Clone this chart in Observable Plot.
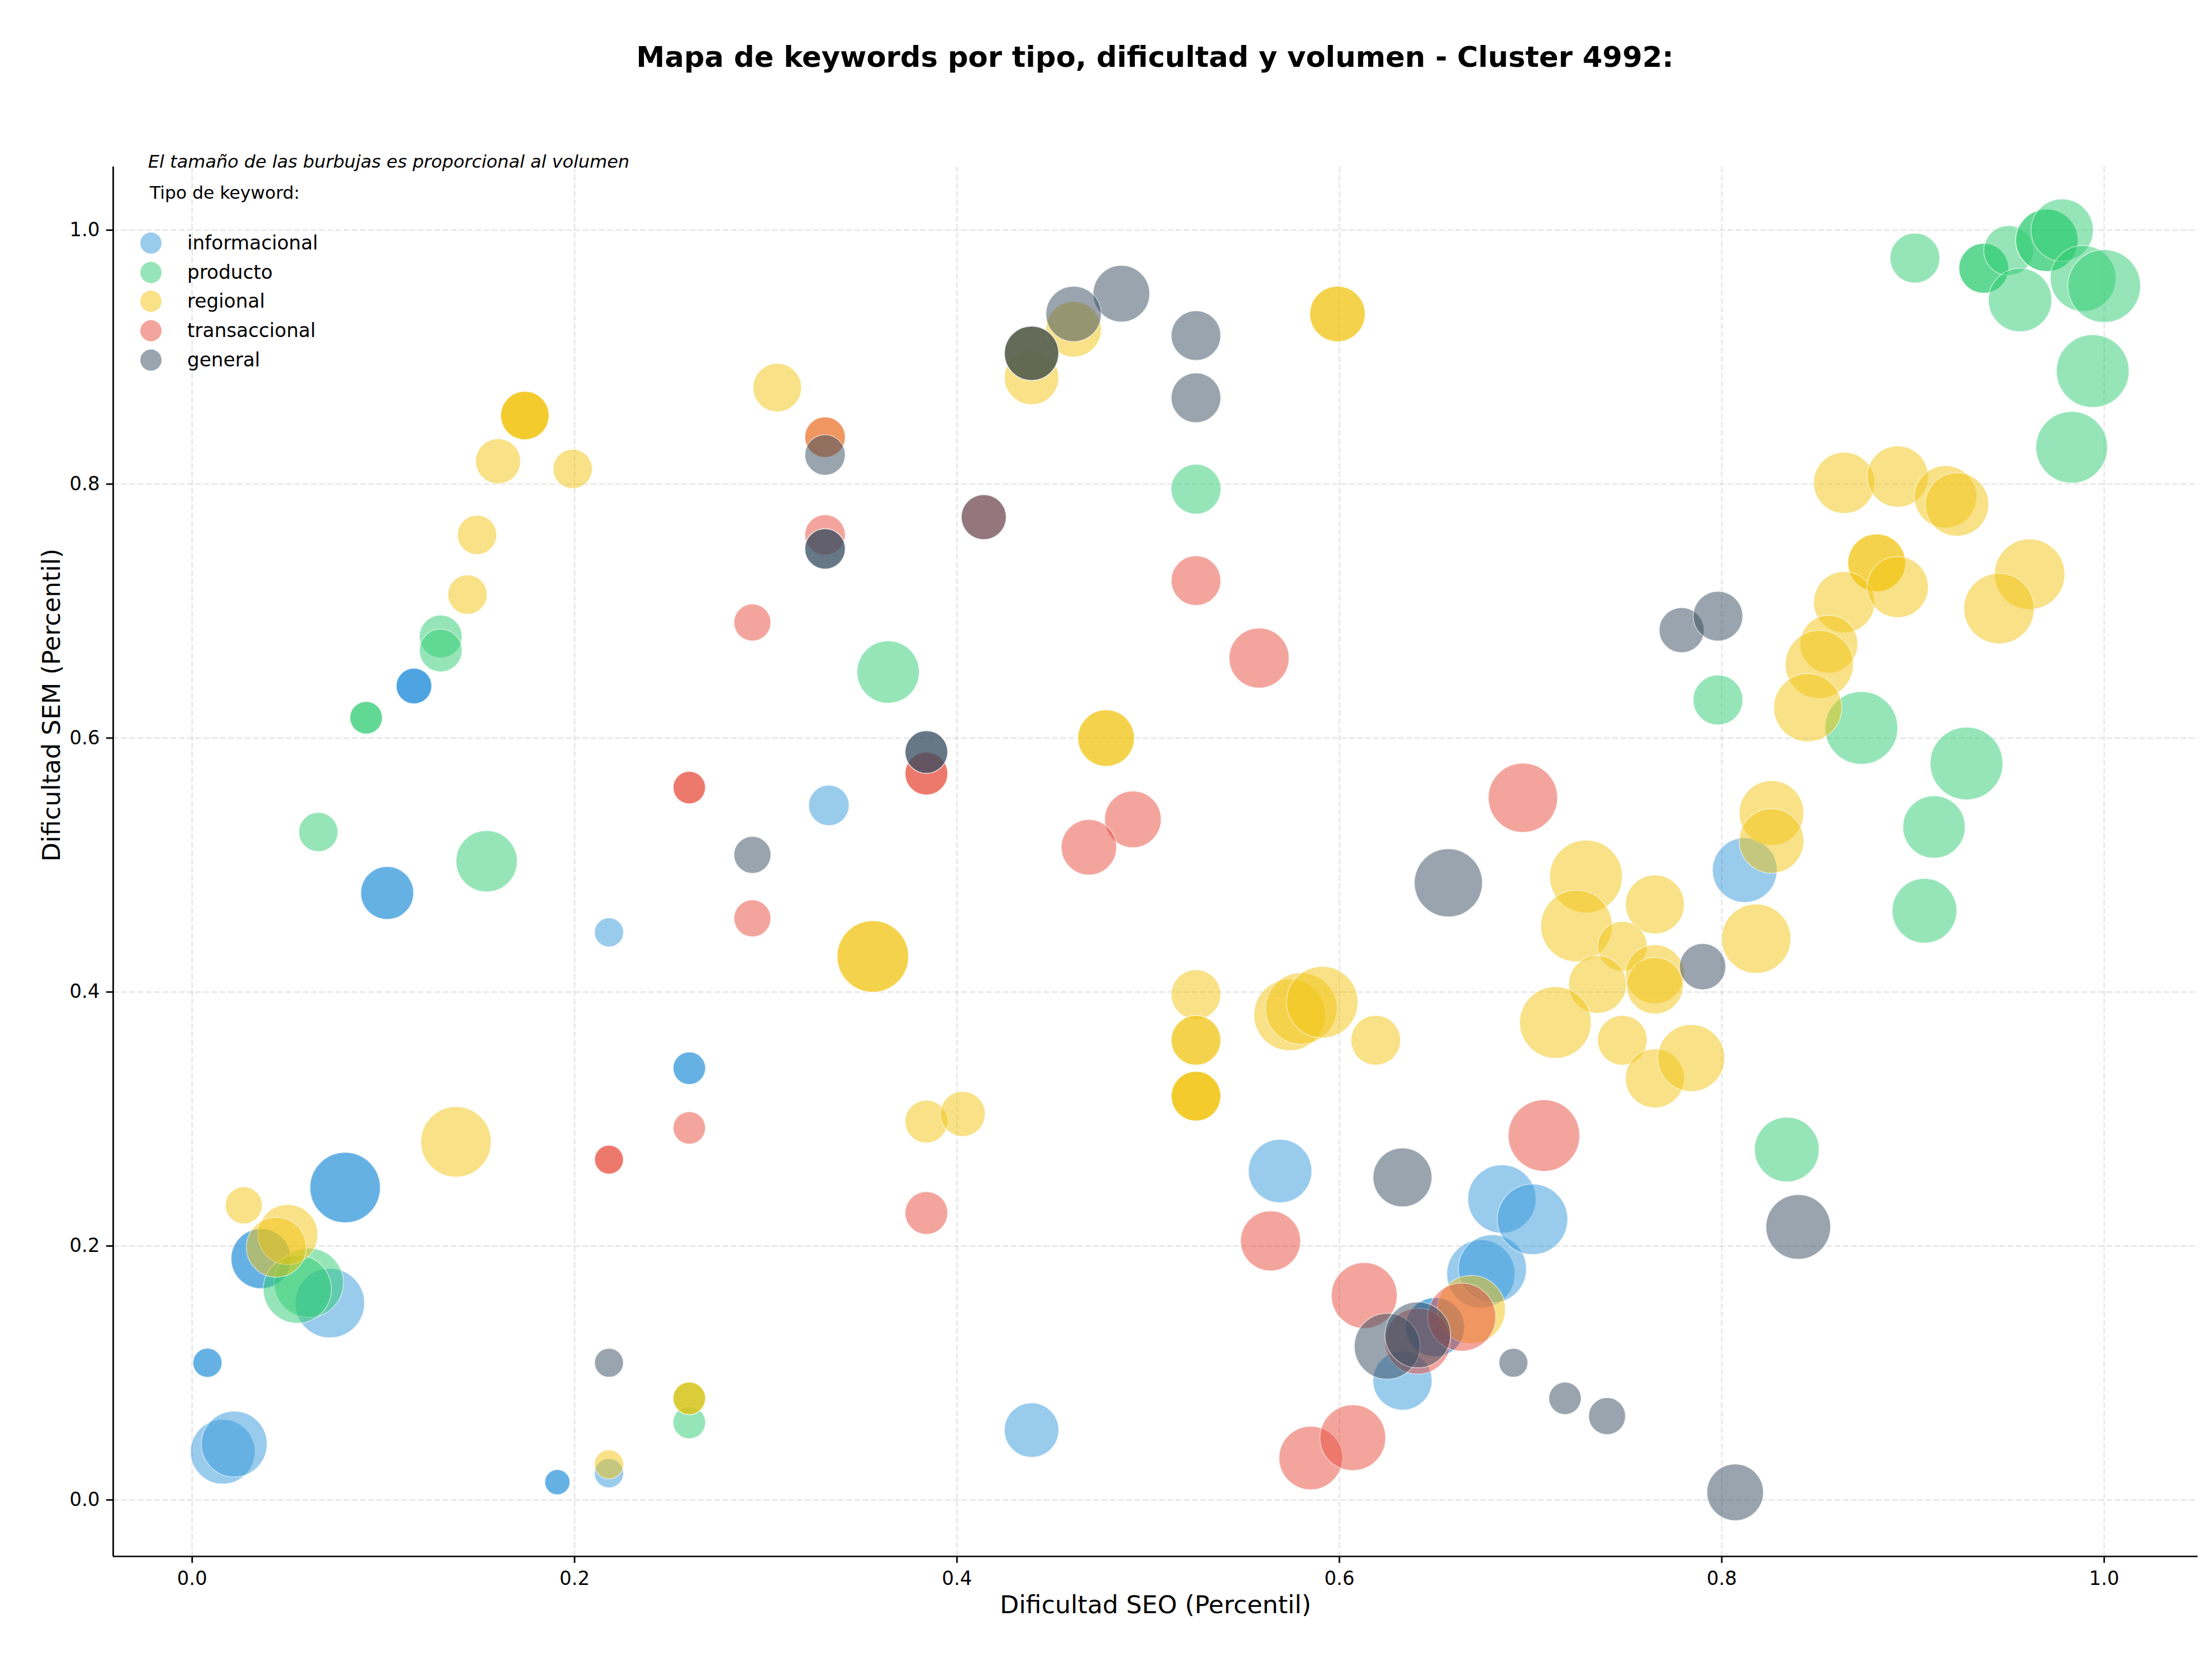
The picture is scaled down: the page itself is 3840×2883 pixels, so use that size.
<!DOCTYPE html>
<html>
<head>
<meta charset="utf-8">
<script src="https://cdn.jsdelivr.net/npm/d3@7"></script>
<script src="https://cdn.jsdelivr.net/npm/@observablehq/plot@0.6"></script>
<style>
  body { margin: 0; background: #fff; }
  #fig { position: relative; width: 3840px; height: 2883px; overflow: hidden; background: #fff;
         font-family: "DejaVu Sans", sans-serif; color: #000; }
  #fig svg { position: absolute; left: 0; top: 200px; }
  .abs { position: absolute; white-space: nowrap; line-height: 1; }
  .title { font-weight: bold; font-size: 49.7px; transform: translate(-50%, -50%); }
  .note { font-style: italic; font-size: 31px; transform: translateY(-50%); }
  .ltitle { font-size: 30.5px; transform: translateY(-50%); }
  .item { font-size: 33.3px; transform: translateY(-50%); }
  .swatch { position: absolute; width: 37px; height: 37px; border-radius: 50%; transform: translate(-50%, -50%); }
</style>
</head>
<body>
<div id="fig"></div>
<script>
// Tipos de keyword, en el orden en que se dibujan
const tipos = ["informacional", "producto", "regional", "transaccional", "general"];
const colores = ["#3498db", "#2ecc71", "#f1c40f", "#e74c3c", "#34495e"];

// [dificultad SEO (percentil), dificultad SEM (percentil), volumen]
const informacional = [
  [0.116, 0.641, 240], [0.116, 0.641, 240], [0.116, 0.641, 240],
  [0.333, 0.547, 310],
  [0.102, 0.478, 530], [0.102, 0.478, 530],
  [0.218, 0.447, 160],
  [0.260, 0.340, 200], [0.260, 0.340, 200],
  [0.080, 0.246, 940], [0.080, 0.246, 940],
  [0.036, 0.190, 680], [0.036, 0.190, 680],
  [0.072, 0.155, 910],
  [0.008, 0.108, 160], [0.008, 0.108, 160],
  [0.016, 0.038, 790],
  [0.022, 0.044, 820],
  [0.218, 0.021, 160],
  [0.191, 0.014, 120], [0.191, 0.014, 120],
  [0.439, 0.055, 560],
  [0.569, 0.259, 760],
  [0.633, 0.094, 660],
  [0.650, 0.136, 660], [0.650, 0.136, 660],
  [0.674, 0.178, 880],
  [0.680, 0.182, 880],
  [0.685, 0.237, 880],
  [0.701, 0.221, 940],
  [0.812, 0.496, 790]
];

const producto = [
  [0.130, 0.680, 345], [0.130, 0.669, 345],
  [0.091, 0.616, 200], [0.091, 0.616, 200],
  [0.066, 0.526, 290],
  [0.154, 0.503, 710],
  [0.364, 0.652, 735],
  [0.525, 0.796, 470],
  [0.061, 0.171, 910],
  [0.055, 0.166, 880],
  [0.260, 0.080, 200],
  [0.260, 0.061, 200],
  [0.901, 0.978, 470],
  [0.937, 0.970, 470], [0.937, 0.970, 470],
  [0.950, 0.984, 470],
  [0.956, 0.945, 760],
  [0.970, 0.992, 735], [0.970, 0.992, 735],
  [0.978, 1.000, 735],
  [0.989, 0.962, 820],
  [1.000, 0.956, 1000],
  [0.994, 0.889, 1000],
  [0.983, 0.829, 970],
  [0.873, 0.608, 1000],
  [0.798, 0.630, 470],
  [0.928, 0.580, 1000],
  [0.911, 0.530, 735],
  [0.906, 0.464, 790],
  [0.834, 0.276, 790]
];

const regional = [
  [0.174, 0.854, 444], [0.174, 0.854, 444], [0.174, 0.854, 444],
  [0.160, 0.818, 383],
  [0.199, 0.812, 291],
  [0.149, 0.760, 291],
  [0.144, 0.713, 291],
  [0.306, 0.876, 444],
  [0.331, 0.837, 309],
  [0.439, 0.884, 557],
  [0.439, 0.903, 557], [0.439, 0.903, 557],
  [0.461, 0.922, 580],
  [0.599, 0.934, 580], [0.599, 0.934, 580],
  [0.478, 0.600, 605], [0.478, 0.600, 605],
  [0.356, 0.428, 968], [0.356, 0.428, 968],
  [0.525, 0.398, 466],
  [0.525, 0.362, 466], [0.525, 0.362, 466],
  [0.525, 0.318, 466], [0.525, 0.318, 466], [0.525, 0.318, 466],
  [0.574, 0.382, 968],
  [0.580, 0.387, 968],
  [0.591, 0.392, 968],
  [0.619, 0.362, 466],
  [0.384, 0.298, 345],
  [0.403, 0.304, 383],
  [0.138, 0.282, 937],
  [0.027, 0.232, 258],
  [0.050, 0.209, 681],
  [0.044, 0.199, 681],
  [0.260, 0.080, 200], [0.260, 0.080, 200],
  [0.218, 0.028, 160],
  [0.669, 0.150, 877],
  [0.864, 0.801, 708],
  [0.892, 0.806, 708],
  [0.917, 0.790, 735],
  [0.923, 0.784, 762],
  [0.881, 0.738, 630], [0.881, 0.738, 630],
  [0.864, 0.707, 708],
  [0.892, 0.719, 708],
  [0.961, 0.729, 937],
  [0.945, 0.702, 937],
  [0.856, 0.674, 630],
  [0.851, 0.658, 877],
  [0.845, 0.624, 877],
  [0.826, 0.541, 790],
  [0.826, 0.519, 790],
  [0.729, 0.491, 1000],
  [0.724, 0.452, 968],
  [0.765, 0.469, 655],
  [0.748, 0.436, 466],
  [0.735, 0.406, 630],
  [0.765, 0.414, 655],
  [0.765, 0.405, 605],
  [0.818, 0.442, 907],
  [0.713, 0.376, 968],
  [0.748, 0.362, 466],
  [0.765, 0.332, 655],
  [0.784, 0.348, 848]
];

const transaccional = [
  [0.331, 0.837, 309],
  [0.331, 0.760, 309],
  [0.293, 0.691, 258],
  [0.260, 0.561, 198], [0.260, 0.561, 198],
  [0.414, 0.774, 383],
  [0.525, 0.724, 466],
  [0.558, 0.663, 681],
  [0.384, 0.572, 345], [0.384, 0.572, 345],
  [0.492, 0.536, 605],
  [0.469, 0.514, 580],
  [0.293, 0.458, 258],
  [0.260, 0.293, 198],
  [0.218, 0.268, 157], [0.218, 0.268, 157],
  [0.384, 0.226, 345],
  [0.696, 0.553, 907],
  [0.707, 0.287, 968],
  [0.564, 0.204, 681],
  [0.613, 0.161, 819],
  [0.585, 0.033, 762],
  [0.607, 0.049, 819],
  [0.641, 0.125, 819],
  [0.664, 0.144, 877]
];

const general = [
  [0.331, 0.823, 309],
  [0.331, 0.749, 309], [0.331, 0.749, 309],
  [0.293, 0.508, 258],
  [0.486, 0.950, 605],
  [0.461, 0.934, 580],
  [0.439, 0.903, 557], [0.439, 0.903, 557],
  [0.525, 0.917, 466],
  [0.525, 0.868, 466],
  [0.414, 0.774, 383],
  [0.384, 0.589, 345], [0.384, 0.589, 345],
  [0.657, 0.486, 877],
  [0.633, 0.254, 655],
  [0.625, 0.121, 819],
  [0.641, 0.130, 819],
  [0.779, 0.685, 383],
  [0.798, 0.696, 466],
  [0.790, 0.420, 403],
  [0.840, 0.215, 790],
  [0.691, 0.108, 157],
  [0.718, 0.080, 198],
  [0.740, 0.066, 258],
  [0.807, 0.006, 605],
  [0.218, 0.108, 157]
];

const ticks = [0, 0.2, 0.4, 0.6, 0.8, 1.0];
const titulo = "Mapa de keywords por tipo, dificultad y volumen - Cluster 4992:";
const nota = "El tamaño de las burbujas es proporcional al volumen";
const tituloLeyenda = "Tipo de keyword:";
const etiquetaX = "Dificultad SEO (Percentil)";
const etiquetaY = "Dificultad SEM (Percentil)";

const series = { informacional, producto, regional, transaccional, general };
const filas = tipos.flatMap(tipo =>
  series[tipo].map(([seo, sem, volumen]) => ({ tipo, seo, sem, volumen }))
);

const xDom = [-0.0413, 1.049];
const yDom = [-0.0445, 1.0499];
const grid = { stroke: "#b0b0b0", strokeOpacity: 0.3, strokeWidth: 2.7, strokeDasharray: "10,4.3" };

const chart = Plot.plot({
  width: 3840,
  height: 2683,
  marginTop: 89,
  marginBottom: 182,
  marginLeft: 196,
  marginRight: 25,
  style: { fontFamily: "'DejaVu Sans', sans-serif", fontSize: "33px", color: "#000", background: "#fff" },
  x: { domain: xDom },
  y: { domain: yDom },
  r: { type: "sqrt", domain: [0, 1000], range: [0, 63] },
  color: { domain: tipos, range: colores },
  marks: [
    Plot.gridX(ticks, grid),
    Plot.gridY(ticks, grid),
    Plot.dot(filas, {
      x: "seo", y: "sem", r: "volumen", fill: "tipo",
      fillOpacity: 0.5, stroke: "#fff", strokeOpacity: 0.5, strokeWidth: 1.7, sort: null
    }),
    Plot.ruleX([xDom[0]], { stroke: "#000", strokeWidth: 2.7 }),
    Plot.ruleY([yDom[0]], { stroke: "#000", strokeWidth: 2.7 }),
    Plot.axisX(ticks, { tickFormat: d3.format(".1f"), tickSize: 11.7, tickPadding: 14, strokeWidth: 2.7, fontSize: 33, label: null }),
    Plot.axisY(ticks, { tickFormat: d3.format(".1f"), tickSize: 11.7, tickPadding: 11.5, strokeWidth: 2.7, fontSize: 33, label: null }),
    Plot.text([etiquetaX], { frameAnchor: "bottom", dy: 98, fontSize: 43, text: d => d }),
    Plot.text([etiquetaY], { frameAnchor: "left", dx: -106, rotate: -90, fontSize: 43, text: d => d })
  ]
});

const fig = document.getElementById("fig");
fig.appendChild(chart);

function addText(cls, text, left, top) {
  const el = document.createElement("div");
  el.className = "abs " + cls;
  el.textContent = text;
  el.style.left = left + "px";
  el.style.top = top + "px";
  fig.appendChild(el);
  return el;
}

addText("title", titulo, 2005, 100);
addText("note", nota, 257, 280);
addText("ltitle", tituloLeyenda, 260, 335);

// Leyenda por tipo
tipos.forEach((tipo, i) => {
  const cy = 422 + i * 50.7;
  const sw = document.createElement("div");
  sw.className = "swatch";
  sw.style.left = "262px";
  sw.style.top = cy + "px";
  sw.style.background = colores[i];
  sw.style.opacity = 0.5;
  fig.appendChild(sw);
  addText("item", tipo, 325, cy);
});
</script>
</body>
</html>
